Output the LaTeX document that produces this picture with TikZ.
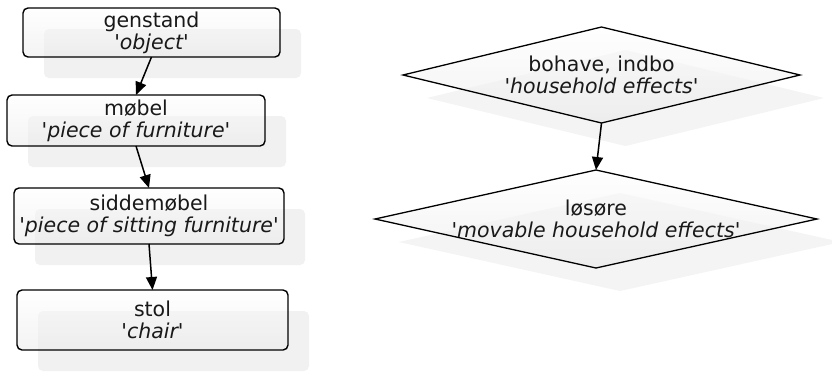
\documentclass[tikz,border=0pt]{standalone}
\usepackage{fontspec}
\setmainfont{DejaVu Sans}[Ligatures=TeXOff]
\usetikzlibrary{shapes.geometric,arrows.meta,shadows}

\begin{document}
\begin{tikzpicture}[x=1pt,y=-1pt,
  lbl/.style={font=\fontsize{20.5}{22}\selectfont, align=center, text=black!90},
  card/.style={lbl, rectangle, draw=black, line width=1.4pt, rounded corners=5pt,
    inner sep=0pt, outer sep=0pt, top color=white, bottom color=gray!16,
    fill opacity=0.55, text opacity=1,
    drop shadow={shadow xshift=21pt, shadow yshift=-21pt, fill=gray!11, opacity=1}},
  rhomb/.style={diamond, draw=black, line width=1.3pt, inner sep=0pt, outer sep=0pt,
    top color=white, bottom color=gray!18, fill opacity=0.55,
    drop shadow={shadow xshift=24pt, shadow yshift=-23pt, fill=gray!9, opacity=1}},
  link/.style={draw=black, line width=1.5pt, -{Triangle[length=13pt,width=11pt]}}
]
\fill[white] (0,0) rectangle (832,373);
\useasboundingbox (0,0) rectangle (832,373);

% left column: hierarchy of furniture terms
\node[card, minimum width=257pt, minimum height=49pt] (gen) at (151.5,32.5)
  {genstand\\{\itshape 'object'}};
\node[card, minimum width=258pt, minimum height=51pt] (mob) at (136,120.5)
  {møbel\\{\itshape 'piece of furniture'}};
\node[card, minimum width=270pt, minimum height=56pt] (sid) at (149,216)
  {siddemøbel\\{\itshape 'piece of sitting furniture'}};
\node[card, minimum width=271pt, minimum height=60pt] (sto) at (152.5,320)
  {stol\\{\itshape 'chair'}};

\draw[link] (gen.south) -- (mob.north);
\draw[link] (mob.south) -- (sid.north);
\draw[link] (sid.south) -- (sto.north);

% right column: household terms
\node[rhomb, minimum width=397pt, minimum height=96pt] (boh) at (601.5,75) {};
\node[rhomb, minimum width=442pt, minimum height=98pt] (los) at (596,219) {};
\node[lbl] (boht) at (boh.center) {bohave, indbo\\{\itshape 'household effects'}};
\node[lbl] (lost) at (los.center) {løsøre\\{\itshape 'movable household effects'}};

\draw[link] (boh.south) -- (los.north);
\end{tikzpicture}
\end{document}
